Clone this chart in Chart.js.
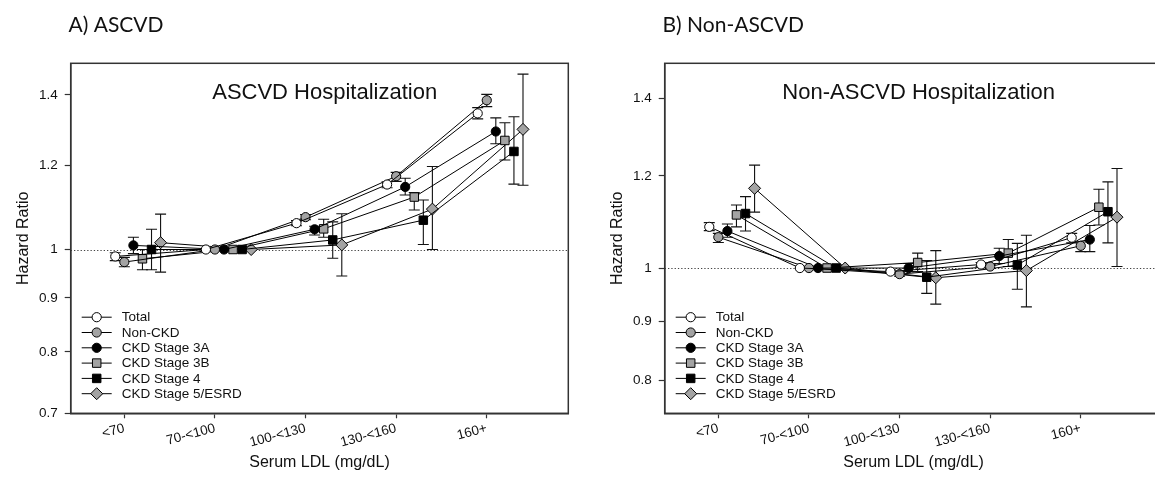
<!DOCTYPE html>
<html>
<head>
<meta charset="utf-8">
<script src="https://cdn.jsdelivr.net/npm/chart.js@4.4.0/dist/chart.umd.min.js"></script>
<style>
html,body{margin:0;padding:0;background:#fff;overflow:hidden;width:1155px;height:486px;}
.panel{position:absolute;top:0;width:594px;height:486px;}
</style>
</head>
<body>
<div class="panel" style="left:0"><canvas id="chartA" width="594" height="486"></canvas></div>
<div class="panel" style="left:594px"><canvas id="chartB" width="594" height="486"></canvas></div>
<script>
// LDL categories and patient groups
const categories = ['<70', '70-<100', '100-<130', '130-<160', '160+'];
const groups = ['Total', 'Non-CKD', 'CKD Stage 3A', 'CKD Stage 3B', 'CKD Stage 4', 'CKD Stage 5/ESRD'];

// A) ASCVD hospitalization - hazard ratios, one row per group
const ascvdHR = [
    [0.985, 1, 1.059, 1.152, 1.345],
    [0.973, 1, 1.073, 1.173, 1.384],
    [1.009, 1, 1.045, 1.146, 1.293],
    [0.980, 1, 1.046, 1.121, 1.268],
    [1.000, 1, 1.021, 1.066, 1.238],
    [1.015, 1, 1.010, 1.092, 1.299]
];
const ascvdLow = [
    [0.976, null, 1.053, 1.144, 1.329],
    [0.963, null, 1.067, 1.160, 1.365],
    [0.991, null, 1.032, 1.126, 1.259],
    [0.957, null, 1.027, 1.090, 1.215],
    [0.957, null, 0.981, 1.011, 1.153],
    [0.952, null, 0.944, 1.000, 1.150]
];
const ascvdHigh = [
    [0.993, null, 1.065, 1.159, 1.362],
    [0.983, null, 1.079, 1.183, 1.402],
    [1.027, null, 1.052, 1.168, 1.332],
    [1.000, null, 1.068, 1.132, 1.318],
    [1.045, null, 1.062, 1.114, 1.335],
    [1.080, null, 1.081, 1.198, 1.465]
];
const ascvdTicks = [0.7, 0.8, 0.9, 1, 1.2, 1.4];

// B) Non-ASCVD hospitalization
const nonAscvdHR = [
    [1.085, 1, 0.993, 1.007, 1.062],
    [1.063, 1, 0.988, 1.003, 1.045],
    [1.076, 1, 1.000, 1.024, 1.058],
    [1.111, 1, 1.011, 1.030, 1.128],
    [1.114, 1, 0.982, 1.006, 1.118],
    [1.171, 1, 0.981, 0.995, 1.106]
];
const nonAscvdLow = [
    [1.077, null, 0.990, 1.003, 1.051],
    [1.052, null, 0.984, 0.999, 1.033],
    [1.063, null, 0.993, 1.009, 1.033],
    [1.085, null, 0.993, 1.003, 1.089],
    [1.076, null, 0.951, 0.959, 1.051],
    [1.117, null, 0.931, 0.926, 1.003]
];
const nonAscvdHigh = [
    [1.094, null, 0.996, 1.011, 1.071],
    [1.071, null, 0.992, 1.007, 1.053],
    [1.091, null, 1.009, 1.040, 1.088],
    [1.133, null, 1.030, 1.058, 1.169],
    [1.152, null, 1.015, 1.050, 1.186],
    [1.226, null, 1.035, 1.067, 1.218]
];
const nonAscvdTicks = [0.8, 0.9, 1, 1.2, 1.4];

// marker styles per group
const dodge = [-0.1, 0, 0.1, 0.2, 0.3, 0.4];
const markers = ['circle', 'circle', 'circle', 'rect', 'rect', 'rectRot'];
const markerSize = [4.6, 4.6, 4.6, 6, 6, 6];
const fills = ['#ffffff', '#a3a3a3', '#000000', '#a3a3a3', '#000000', '#a3a3a3'];

Chart.defaults.font.family = '"Liberation Sans", Arial, sans-serif';
Chart.defaults.color = '#111';

const panelDecor = {
    id: 'panelDecor',
    beforeDatasetsDraw(chart) {
        const {ctx, chartArea: a, scales: {x, y}} = chart;
        ctx.save();
        // dotted line at HR = 1
        const y1 = Math.round(y.getPixelForValue(1)) + 0.5;
        ctx.strokeStyle = '#444';
        ctx.lineWidth = 1;
        ctx.setLineDash([1.3, 2]);
        ctx.beginPath(); ctx.moveTo(a.left, y1); ctx.lineTo(a.right, y1); ctx.stroke();
        ctx.setLineDash([]);
        // error bars
        ctx.strokeStyle = '#111';
        ctx.lineWidth = 1.1;
        chart.data.datasets.forEach(ds => {
            ds.data.forEach((p, i) => {
                if (ds.lo[i] == null) return;
                const px = x.getPixelForValue(p.x);
                const top = y.getPixelForValue(ds.hi[i]);
                const bot = y.getPixelForValue(ds.lo[i]);
                ctx.beginPath();
                ctx.moveTo(px, top); ctx.lineTo(px, bot);
                ctx.moveTo(px - 5.5, top); ctx.lineTo(px + 5.5, top);
                ctx.moveTo(px - 5.5, bot); ctx.lineTo(px + 5.5, bot);
                ctx.stroke();
            });
        });
        ctx.restore();
    },
    afterDraw(chart, args, opts) {
        const {ctx, chartArea: a} = chart;
        ctx.save();
        // frame
        ctx.strokeStyle = '#333';
        ctx.lineWidth = 1.5;
        ctx.strokeRect(a.left, a.top, a.right - a.left, a.bottom - a.top);
        // panel tag
        ctx.fillStyle = '#111';
        ctx.font = '21px Lato, "Open Sans", sans-serif';
        ctx.textBaseline = 'alphabetic';
        ctx.textAlign = 'left';
        ctx.fillText(opts.tag, 68.5, 31.7);
        // title inside plot
        ctx.font = '22px "Liberation Sans", Arial, sans-serif';
        ctx.textAlign = 'center';
        ctx.fillText(opts.title, a.left + 254, 99.3);
        // legend
        ctx.font = '13.5px "Liberation Sans", Arial, sans-serif';
        ctx.textAlign = 'left';
        ctx.textBaseline = 'middle';
        const n = chart.data.datasets.length;
        chart.data.datasets.forEach((ds, i) => {
            const ry = a.bottom - 19.6 - (n - 1 - i) * 15.3;
            ctx.strokeStyle = '#000';
            ctx.lineWidth = 1;
            ctx.beginPath(); ctx.moveTo(a.left + 11, ry); ctx.lineTo(a.left + 41, ry); ctx.stroke();
            ctx.fillStyle = ds.pointBackgroundColor;
            Chart.helpers.drawPoint(ctx, {pointStyle: ds.pointStyle, radius: ds.pointRadius, borderWidth: 1, rotation: 0}, a.left + 26, ry);
            ctx.fillStyle = '#111';
            ctx.fillText(ds.label, a.left + 51, ry + 0.5);
        });
        ctx.restore();
    }
};

function makeChart(id, tag, title, hr, lo, hi, yMin, yTicks) {
    const datasets = groups.map((g, k) => ({
        label: g,
        data: hr[k].map((v, i) => ({x: i + 1 + dodge[k], y: v})),
        lo: lo[k],
        hi: hi[k],
        showLine: true,
        borderColor: '#000',
        borderWidth: 1,
        tension: 0,
        pointStyle: markers[k],
        pointRadius: markerSize[k],
        pointBackgroundColor: fills[k],
        pointBorderColor: '#000',
        pointBorderWidth: 1
    }));
    return new Chart(document.getElementById(id), {
        type: 'line',
        data: {datasets},
        options: {
            responsive: false,
            animation: false,
            layout: {padding: {top: 63.3, right: 25.7, left: 0, bottom: 0}},
            plugins: {
                legend: {display: false},
                tooltip: {enabled: false},
                panelDecor: {tag, title}
            },
            scales: {
                x: {
                    type: 'linear',
                    min: 0.408,
                    max: 5.9,
                    afterBuildTicks: s => { s.ticks = categories.map((c, i) => ({value: i + 1})); },
                    afterFit: s => { s.height = 72.7; },
                    ticks: {
                        autoSkip: false, minRotation: 15, maxRotation: 15, padding: 2,
                        font: {size: 13.5},
                        callback: v => categories[v - 1] || ''
                    },
                    grid: {drawOnChartArea: false, tickLength: 5, tickColor: '#333', tickWidth: 1.2},
                    border: {color: '#333', width: 1.5},
                    title: {display: true, text: 'Serum LDL (mg/dL)', font: {size: 16}, padding: {top: 0, bottom: 13.4}}
                },
                y: {
                    type: 'logarithmic',
                    min: yMin,
                    max: 1.5,
                    afterBuildTicks: s => { s.ticks = yTicks.map(v => ({value: v})); },
                    afterFit: s => { s.width = 70.7; },
                    ticks: {padding: 7, font: {size: 13.5}, callback: v => String(v)},
                    grid: {drawOnChartArea: false, tickLength: 6, tickColor: '#333', tickWidth: 1.2},
                    border: {color: '#333', width: 1.5},
                    title: {display: true, text: 'Hazard Ratio', font: {size: 16}, padding: {top: 14, bottom: 0}}
                }
            }
        },
        plugins: [panelDecor]
    });
}

makeChart('chartA', 'A) ASCVD', 'ASCVD Hospitalization', ascvdHR, ascvdLow, ascvdHigh, 0.7, ascvdTicks);
makeChart('chartB', 'B) Non-ASCVD', 'Non-ASCVD Hospitalization', nonAscvdHR, nonAscvdLow, nonAscvdHigh, 0.75, nonAscvdTicks);
</script>
</body>
</html>
